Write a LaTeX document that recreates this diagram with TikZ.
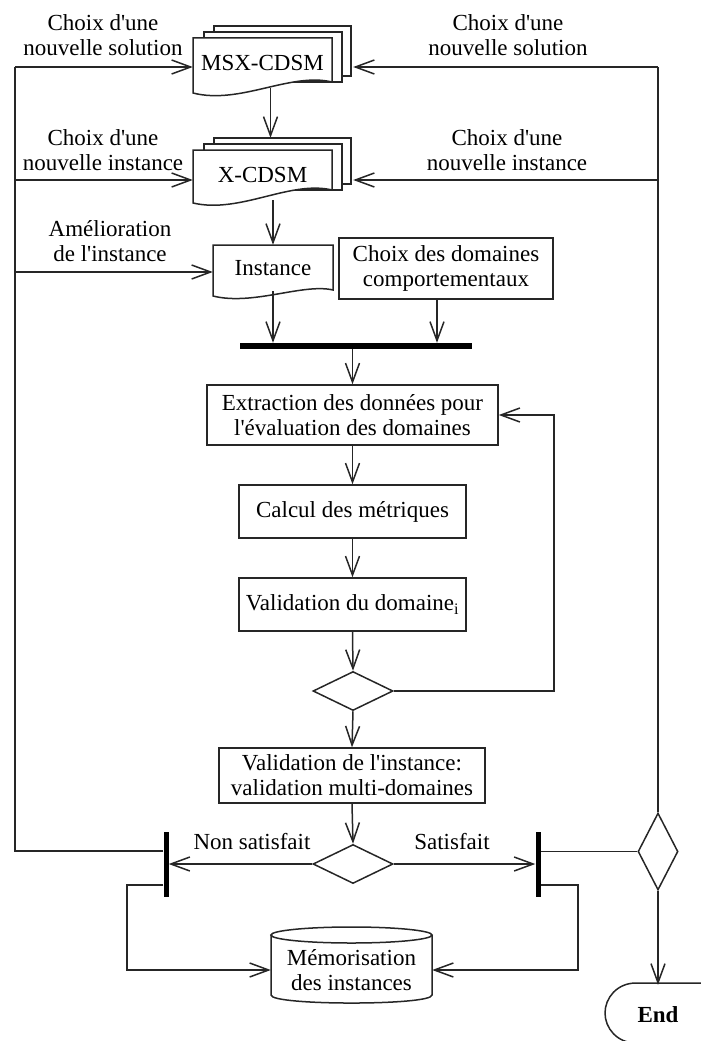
\documentclass[tikz,border=0pt]{standalone}
\usepackage{fontspec}
\setmainfont{Liberation Serif}
\usetikzlibrary{arrows.meta,shapes.geometric,calc}
\begin{document}
\begin{tikzpicture}[x=1pt,y=-1pt,
  every node/.style={font=\fontsize{23}{25}\selectfont, inner sep=0pt, align=center},
  line/.style={line width=1.5pt, draw=black!85},
  arr/.style={line width=1.5pt, draw=black!85, -{Straight Barb[length=19pt,width=14pt]}},
  boxn/.style={draw=black!85, line width=1.5pt},
  dia/.style={diamond, draw=black!85, line width=1.5pt, inner sep=0pt},
  barn/.style={fill=black, inner sep=0pt}]
\useasboundingbox (0,0) rectangle (701,1041);
\clip (0,0) rectangle (701,1041);
% document stacks
\draw[line, fill=white] (214,26) rectangle (351,76);
\draw[line, fill=white] (204,32) rectangle (342,82);
\draw[line, fill=white] (193,38) -- (332,38) -- (332,82) .. controls (290,72) and (240,105) .. (193,93) -- cycle;
\draw[line, fill=white] (214,138) rectangle (351,184);
\draw[line, fill=white] (204,144) rectangle (342,190);
\draw[line, fill=white] (193,150) -- (332,150) -- (332,190) .. controls (290,180) and (240,214) .. (193,203) -- cycle;
% instance document
\draw[line, fill=white] (213,245) -- (333,245) -- (333,290) .. controls (303,283) and (253,306) .. (213,296) -- cycle;
% cylinder
\draw[line] (271,935) -- (271,995) .. controls (271,1005.7) and (432,1005.7) .. (432,995) -- (432,935);
\draw[line] (351.5,935) ellipse [x radius=80.5, y radius=8];
% End terminator
\draw[line] (710,983) -- (636,983) .. controls (617,983) and (605,998) .. (605,1013) .. controls (605,1028) and (617,1043) .. (636,1043);

% nodes
\node (msx) [minimum width=139pt, minimum height=50pt] at (262.5,63) {MSX-CDSM};
\node (xc) [minimum width=139pt, minimum height=50pt] at (262.5,175) {X-CDSM};
\node (inst) [minimum width=120pt, minimum height=46pt] at (273,268) {Instance};
\node (choix) [boxn, minimum width=214pt, minimum height=61pt] at (446,268.5) {Choix des domaines\\comportementaux};
\node (bar) [barn, minimum width=232pt, minimum height=6pt] at (356,346) {};
\node (extr) [boxn, minimum width=291pt, minimum height=60pt] at (352.5,415) {Extraction des données pour\\l\textquotesingle évaluation des domaines};
\node (calc) [boxn, minimum width=227pt, minimum height=53pt] at (352.5,511.5) {Calcul des métriques};
\node (vdom) [boxn, minimum width=227pt, minimum height=53pt] at (352.5,604.5) {Validation du domaine\textsubscript{i}};
\node (d1) [dia, minimum width=80pt, minimum height=39pt] at (353,691) {};
\node (vinst) [boxn, minimum width=266pt, minimum height=55pt] at (352,775.5) {Validation de l\textquotesingle instance:\\validation multi-domaines};
\node (d2) [dia, minimum width=80pt, minimum height=39pt] at (353,864) {};
\node (lbar) [barn, minimum width=5pt, minimum height=65pt] at (166,864.5) {};
\node (rbar) [barn, minimum width=5pt, minimum height=65pt] at (538,864.5) {};
\node (rd) [dia, minimum width=40pt, minimum height=77pt] at (658,851.5) {};
\node (mem) [minimum width=161pt, minimum height=60pt] at (351.5,970) {Mémorisation\\des instances};
\node (endn) [minimum width=100pt, minimum height=60pt, font=\fontsize{23}{25}\selectfont\bfseries] at (658,1015) {End};

% labels
\node (l1) at (103,35) {Choix d\textquotesingle une\\nouvelle solution};
\node (r1) at (508,35) {Choix d\textquotesingle une\\nouvelle solution};
\node (l2) at (103,150) {Choix d\textquotesingle une\\nouvelle instance};
\node (r2) at (507,150) {Choix d\textquotesingle une\\nouvelle instance};
\node (l3) at (110,241) {Amélioration\\de l\textquotesingle instance};
\node (ns) at (252,842) {Non satisfait};
\node (sat) at (452,842) {Satisfait};

% coordinates
\coordinate (lt) at (15,67);
\coordinate (lm) at (15,180);
\coordinate (lb) at (15,272);
\coordinate (lc) at (15,851);
\coordinate (rt) at (658,67);
\coordinate (rm) at (658,180);
\coordinate (msxr) at ([xshift=21pt]msx.east);
\coordinate (xcr) at ([xshift=21pt]xc.east);
\coordinate (cs) at ([xshift=-9pt]choix.south);
\coordinate (lbr) at (127,885);
\coordinate (rbr) at (578,885);

% connectors
\draw[line] (lbar.west |- lc) -- (lc) -- (lt);
\draw[arr] (lt) -- (msx.west |- lt);
\draw[arr] (lm) -- (xc.west |- lm);
\draw[arr] (lb) -- (inst.west |- lb);
\draw[line] (rd.north) -- (rt);
\draw[arr] (rt) -- (msxr |- rt);
\draw[arr] (rm) -- (xcr |- rm);
\draw[arr] ([xshift=8pt]msx.south) -- ([xshift=8pt,yshift=12pt]xc.north);
\draw[arr] ([xshift=10.5pt]xc.south) -- (inst.north);
\draw[arr] (inst.south) -- (inst.south |- bar.north);
\draw[arr] (cs) -- (cs |- bar.north);
\draw[arr] (extr.north |- bar.south) -- (extr.north);
\draw[arr] (extr.south) -- (calc.north);
\draw[arr] (calc.south) -- (vdom.north);
\draw[arr] (vdom.south) -- (d1.north);
\draw[arr] (d1.east) -- ++(160,0) |- (extr.east);
\draw[arr] (d1.south) -- (vinst.north);
\draw[arr] (vinst.south) -- (d2.north);
\draw[arr] (d2.west) -- (lbar.east |- d2.west);
\draw[arr] (d2.east) -- (rbar.west |- d2.east);
\draw[line] (rd.west) -- (rbar.east |- rd.west);
\draw[arr] (lbar.west |- lbr) -- (lbr) |- (mem.west);
\draw[arr] (rbar.east |- rbr) -- (rbr) |- (mem.east);
\draw[arr] (rd.south) -- (endn.north);
\end{tikzpicture}
\end{document}
